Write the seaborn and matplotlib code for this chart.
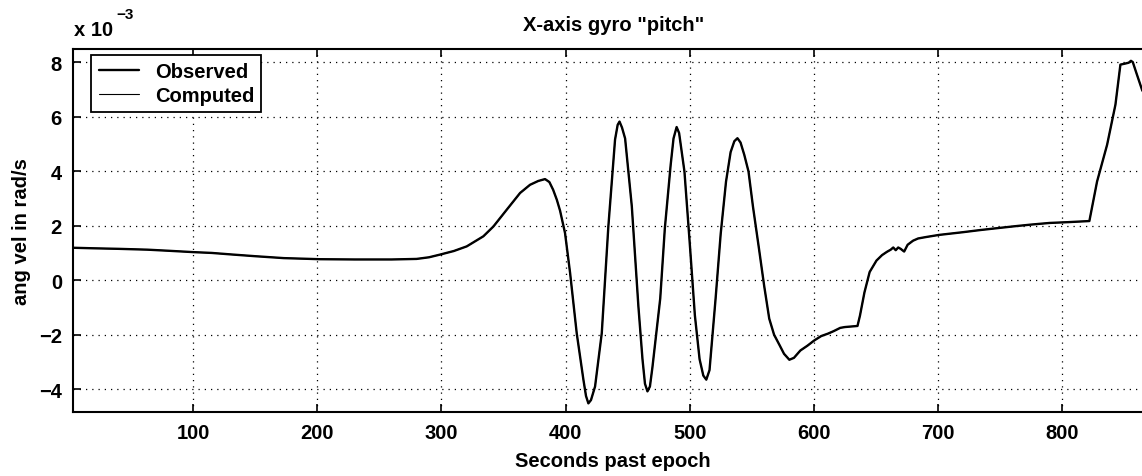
import numpy as np
import pandas as pd
import matplotlib
matplotlib.use('Agg')
import matplotlib.pyplot as plt
import seaborn as sns

sns.set_style('ticks')
plt.rcParams['font.family'] = ['Liberation Sans', 'DejaVu Sans']
plt.rcParams.update({'font.size': 14.5, 'font.weight': 'bold',
                     'text.color': 'black', 'axes.labelcolor': 'black',
                     'xtick.color': 'black', 'ytick.color': 'black'})

# seconds past epoch
seconds = [3, 20, 40, 63, 80, 100, 115, 132, 150, 173, 202, 230, 260, 280, 290, 299,
           310, 320.4, 333.8, 341.9, 352.7, 363.4, 371.4, 378, 383.5, 387, 390, 393,
           395.6, 399.6, 403.7, 409, 414.4, 416.5, 418.4, 420.5, 423.8, 429.2, 434.5,
           439.9, 442, 443.5, 445.5, 448, 453.4, 458.7, 462, 464, 466, 468, 470, 476.3,
           480, 484.7, 487, 489.5, 491.5, 495.8, 500, 504.2, 508, 511, 513.4, 516,
           520.9, 525, 529.3, 533, 536, 538.5, 541, 544, 547.4, 551, 555.8, 560, 564.1,
           568, 572.5, 576, 580.3, 584, 589.2, 595, 600.4, 606, 611.5, 616, 621.3, 625,
           635.2, 637.2, 640.8, 645, 650.5, 655, 658.9, 662, 664, 666, 668, 670, 672.8,
           675.6, 680, 684, 690, 700.7, 720, 734.2, 750, 762, 775, 789.9, 805, 822,
           828.2, 836.3, 843, 847, 851, 853.7, 855.5, 857, 859.9, 864.7]

# angular velocity, units of 1e-3 rad/s
observed = [1.19, 1.17, 1.15, 1.12, 1.08, 1.03, 1.0, 0.94, 0.88, 0.81, 0.77, 0.76, 0.76,
            0.78, 0.84, 0.94, 1.07, 1.24, 1.61, 1.97, 2.59, 3.2, 3.5, 3.64, 3.71, 3.6,
            3.32, 2.95, 2.55, 1.73, 0.26, -1.94, -3.65, -4.25, -4.52, -4.4, -3.9, -1.94,
            1.97, 5.16, 5.7, 5.82, 5.6, 5.2, 2.71, -0.96, -2.9, -3.8, -4.08, -3.9, -3.2,
            -0.67, 1.9, 4.23, 5.2, 5.62, 5.4, 3.99, 1.4, -1.29, -2.9, -3.5, -3.65, -3.3,
            -0.67, 1.7, 3.62, 4.7, 5.1, 5.21, 5.05, 4.6, 3.99, 2.7, 1.17, -0.2, -1.41,
            -2.0, -2.39, -2.7, -2.92, -2.85, -2.58, -2.4, -2.21, -2.05, -1.96, -1.87,
            -1.75, -1.72, -1.68, -1.3, -0.45, 0.3, 0.72, 0.92, 1.04, 1.12, 1.2, 1.1, 1.2,
            1.15, 1.05, 1.3, 1.45, 1.53, 1.58, 1.66, 1.76, 1.84, 1.92, 1.98, 2.04, 2.1,
            2.13, 2.17, 3.62, 4.97, 6.44, 7.91, 7.95, 7.98, 8.05, 8.0, 7.6, 6.95]

# computed trace lies on top of the observed one at this scale
computed = list(observed)

x_ticks = [100, 200, 300, 400, 500, 600, 700, 800]
y_ticks = [-4, -2, 0, 2, 4, 6, 8]

fig = plt.figure(figsize=(11.42, 4.77), dpi=100)
ax = fig.add_axes([0.064, 0.134, 0.946, 0.761])

sns.lineplot(x=seconds, y=observed, ax=ax, color='black', lw=1.7, sort=False,
             label='Observed')
sns.lineplot(x=seconds, y=computed, ax=ax, color='black', lw=0.8, sort=False,
             label='Computed')

ax.set_xlim(3.3, 873.6)
ax.set_ylim(-4.84, 8.48)
ax.set_xticks(x_ticks)
ax.set_yticks(y_ticks)
ax.grid(True, color='black', linestyle=(0, (1, 4)), linewidth=0.9)
ax.tick_params(direction='in', length=6, width=1.2, top=True, right=True,
               labelsize=14.5, pad=8)
for s in ax.spines.values():
    s.set_linewidth(1.5)
    s.set_color('black')

ax.set_title('X-axis gyro "pitch"', fontsize=14.5, fontweight='bold', pad=14)
ax.set_xlabel('Seconds past epoch', fontsize=14.5, fontweight='bold', labelpad=6)
ax.set_ylabel('ang vel in rad/s', fontsize=14.5, fontweight='bold', labelpad=6)

ax.annotate('x 10', xy=(0, 1), xycoords='axes fraction', xytext=(1, 7),
            textcoords='offset points', ha='left', va='bottom', fontsize=14.5,
            fontweight='bold')
ax.annotate('\u22123', xy=(0, 1), xycoords='axes fraction', xytext=(31, 20),
            textcoords='offset points', ha='left', va='bottom', fontsize=11,
            fontweight='bold')

leg = ax.legend(loc='upper left', bbox_to_anchor=(0.017, 0.985), fancybox=False,
                framealpha=1, edgecolor='black', fontsize=14.5, handlelength=2.0,
                handletextpad=0.8, borderpad=0.35, labelspacing=0.25, borderaxespad=0)
leg.get_frame().set_linewidth(1.3)

fig.savefig('out.png', dpi=100)
